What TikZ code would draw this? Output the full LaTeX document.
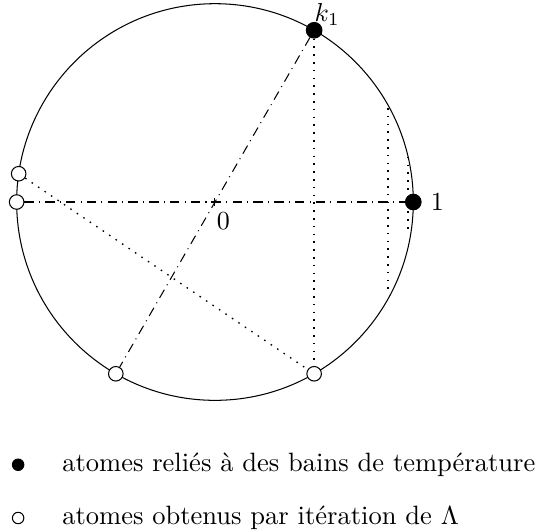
\documentclass[tikz,border=0pt]{standalone}
\usepackage{fontspec}
\usepackage{amsmath,amssymb}
\usetikzlibrary{calc,positioning}

\begin{document}
\begin{tikzpicture}[
    bath/.style={circle,draw=black,fill=black,inner sep=0pt,minimum size=6pt},
    iter/.style={circle,draw=black,fill=white,inner sep=0pt,minimum size=5.6pt},
    axe/.style={dash pattern=on 3.6pt off 2pt on 0.4pt off 2pt},
    proj/.style={line width=0.5pt,dash pattern=on 0.6pt off 2.4pt},
    legende/.style={anchor=west,inner sep=0pt,font=\fontsize{10.2}{12}\selectfont}]
   \useasboundingbox (-2.905,-4.446) rectangle (4.365,2.73);
   \def\rayon{2.68}
   \draw (0,0) circle (\rayon);
   \coordinate (O) at (0,0);
   \draw (O) +(-1.5pt,0) -- +(1.5pt,0) (O) +(0,-1.5pt) -- +(0,1.5pt);
   \node[anchor=north west,inner sep=0pt] (zero) at ([shift={(0.5pt,-4pt)}]O) {$0$};
   \node[bath,label={[inner sep=1pt,xshift=5pt,yshift=-2.7pt]above:$k_1$}] (k1) at (60:\rayon) {};
   \node[bath,label={right:$1$}] (un) at (0:\rayon) {};
   \node[iter] (a) at (180:\rayon) {};
   \node[iter] (b) at (171.8:\rayon) {};
   \node[iter] (c) at (240:\rayon) {};
   \node[iter] (d) at (300:\rayon) {};
   \draw[axe] (a) -- (un);
   \draw[axe] (k1) -- (c);
   \draw[proj] (k1) -- (d);
   \draw[proj] (b) -- (d);
   \coordinate (p1) at (2.34,1.27);
   \coordinate (p2) at (2.34,-1.22);
   \draw[proj] (p1) -- (p2);
   \coordinate (q1) at (2.61,0.61);
   \coordinate (q2) at (2.61,-0.38);
   \draw[proj] (q1) -- (q2);
   % legende
   \node[bath,minimum size=4.4pt] (lb) at (-2.66,-3.55) {};
   \node[legende] (tb) at (-2.07,-3.55) {atomes reliés à des bains de température};
   \node[iter,minimum size=4.4pt] (lo) at (-2.66,-4.27) {};
   \node[legende] (to) at (-2.07,-4.27) {atomes obtenus par itération de $\Lambda$};
  \end{tikzpicture}
\end{document}
